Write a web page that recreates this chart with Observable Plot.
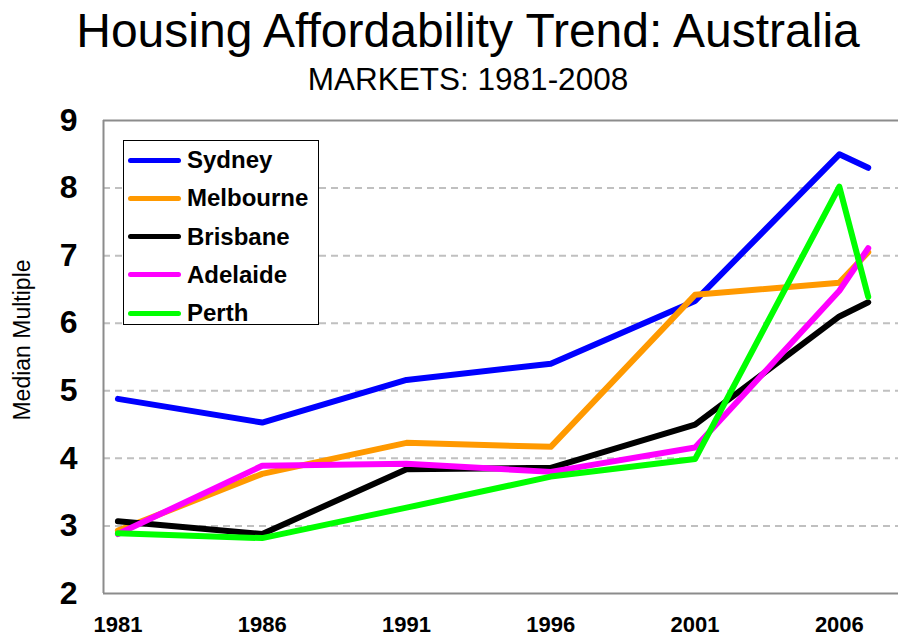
<!DOCTYPE html>
<html>
<head>
<meta charset="utf-8">
<script src="https://cdn.jsdelivr.net/npm/d3@7"></script>
<script src="https://cdn.jsdelivr.net/npm/@observablehq/plot@0.6"></script>
<style>
  html, body { margin: 0; padding: 0; background: #fff; }
  #wrap { position: relative; width: 899px; height: 639px; font-family: Arial, "Liberation Sans", sans-serif; overflow: hidden; }
  .title { position: absolute; left: 37px; width: 862px; text-align: center; color: #000; white-space: nowrap; }
  #t1 { top: 7px; font-size: 48px; line-height: 48px; }
  #t2 { top: 63px; font-size: 31.5px; line-height: 32px; }
  #chart { position: absolute; left: 0; top: 95px; }
  #legend { position: absolute; left: 123px; top: 140px; width: 196px; height: 185px; border: 1px solid #000; background: #fff; box-sizing: border-box; }
  .item { position: absolute; left: 4px; height: 30px; display: flex; align-items: center; }
  .sw { width: 53px; height: 5px; border-radius: 3px; margin-right: 6px; }
  .lab { font-weight: bold; font-size: 24px; color: #000; }
</style>
</head>
<body>
<div id="wrap">
  <div id="t1" class="title">Housing Affordability Trend: Australia</div>
  <div id="t2" class="title">MARKETS: 1981-2008</div>
  <div id="chart"></div>
  <div id="legend"></div>
</div>
<script>
const years = [1981, 1986, 1991, 1996, 2001, 2006, 2007];
const seriesNames = ["Sydney", "Melbourne", "Brisbane", "Adelaide", "Perth"];
const seriesColors = ["#0000ff", "#ff9900", "#000000", "#ff00ff", "#00ff00"];
const sydney    = [4.88, 4.53, 5.16, 5.40, 6.33, 8.50, 8.30];
const melbourne = [2.93, 3.77, 4.23, 4.17, 6.42, 6.60, 7.05];
const brisbane  = [3.07, 2.88, 3.84, 3.86, 4.50, 6.10, 6.31];
const adelaide  = [2.88, 3.89, 3.92, 3.80, 4.16, 6.48, 7.11];
const perth     = [2.89, 2.82, 3.27, 3.73, 3.99, 8.02, 6.39];
const xTicks = [1981, 1986, 1991, 1996, 2001, 2006];
const yTicks = [2, 3, 4, 5, 6, 7, 8, 9];
const gridValues = [3, 4, 5, 6, 7, 8];
const yLabel = "Median Multiple";

const valuesBySeries = [sydney, melbourne, brisbane, adelaide, perth];
const data = [];
seriesNames.forEach((name, i) => {
  valuesBySeries[i].forEach((v, j) => data.push({series: name, year: years[j], value: v}));
});

const chart = Plot.plot({
  width: 899,
  height: 544,
  marginLeft: 103,
  marginRight: 1,
  marginTop: 25,
  marginBottom: 46,
  x: {domain: [1980.5, 2008.05], label: null},
  y: {domain: [2, 9], label: null},
  color: {domain: seriesNames, range: seriesColors},
  style: {fontFamily: "Arial, 'Liberation Sans', sans-serif", background: "transparent", overflow: "visible"},
  marks: [
    Plot.ruleY(gridValues, {stroke: "#c0c0c0", strokeWidth: 2, strokeDasharray: "7,5"}),
    Plot.ruleX([1980.5], {stroke: "#8c8c8c", strokeWidth: 2}),
    Plot.ruleY([2, 9], {stroke: "#8c8c8c", strokeWidth: 2}),
    Plot.axisY({ticks: yTicks, tickSize: 0, tickPadding: 26, fontSize: 32, fontWeight: "bold", label: null, tickFormat: d => String(d)}),
    Plot.axisX({ticks: xTicks, tickSize: 0, tickPadding: 23, fontSize: 22, fontWeight: "bold", label: null, tickFormat: d => String(d)}),
    Plot.text([yLabel], {frameAnchor: "left", textAnchor: "middle", dx: -81, dy: -17, rotate: -90, fontSize: 23, fill: "#000"}),
    Plot.line(data, {x: "year", y: "value", z: "series", stroke: "series", strokeWidth: 6, strokeLinejoin: "round", strokeLinecap: "round"})
  ]
});
document.getElementById("chart").appendChild(chart);

const legend = document.getElementById("legend");
seriesNames.forEach((name, i) => {
  const item = document.createElement("div");
  item.className = "item";
  item.style.top = (4 + i * 38.3) + "px";
  const sw = document.createElement("div");
  sw.className = "sw";
  sw.style.background = seriesColors[i];
  const lab = document.createElement("span");
  lab.className = "lab";
  lab.textContent = name;
  item.appendChild(sw);
  item.appendChild(lab);
  legend.appendChild(item);
});
</script>
</body>
</html>
